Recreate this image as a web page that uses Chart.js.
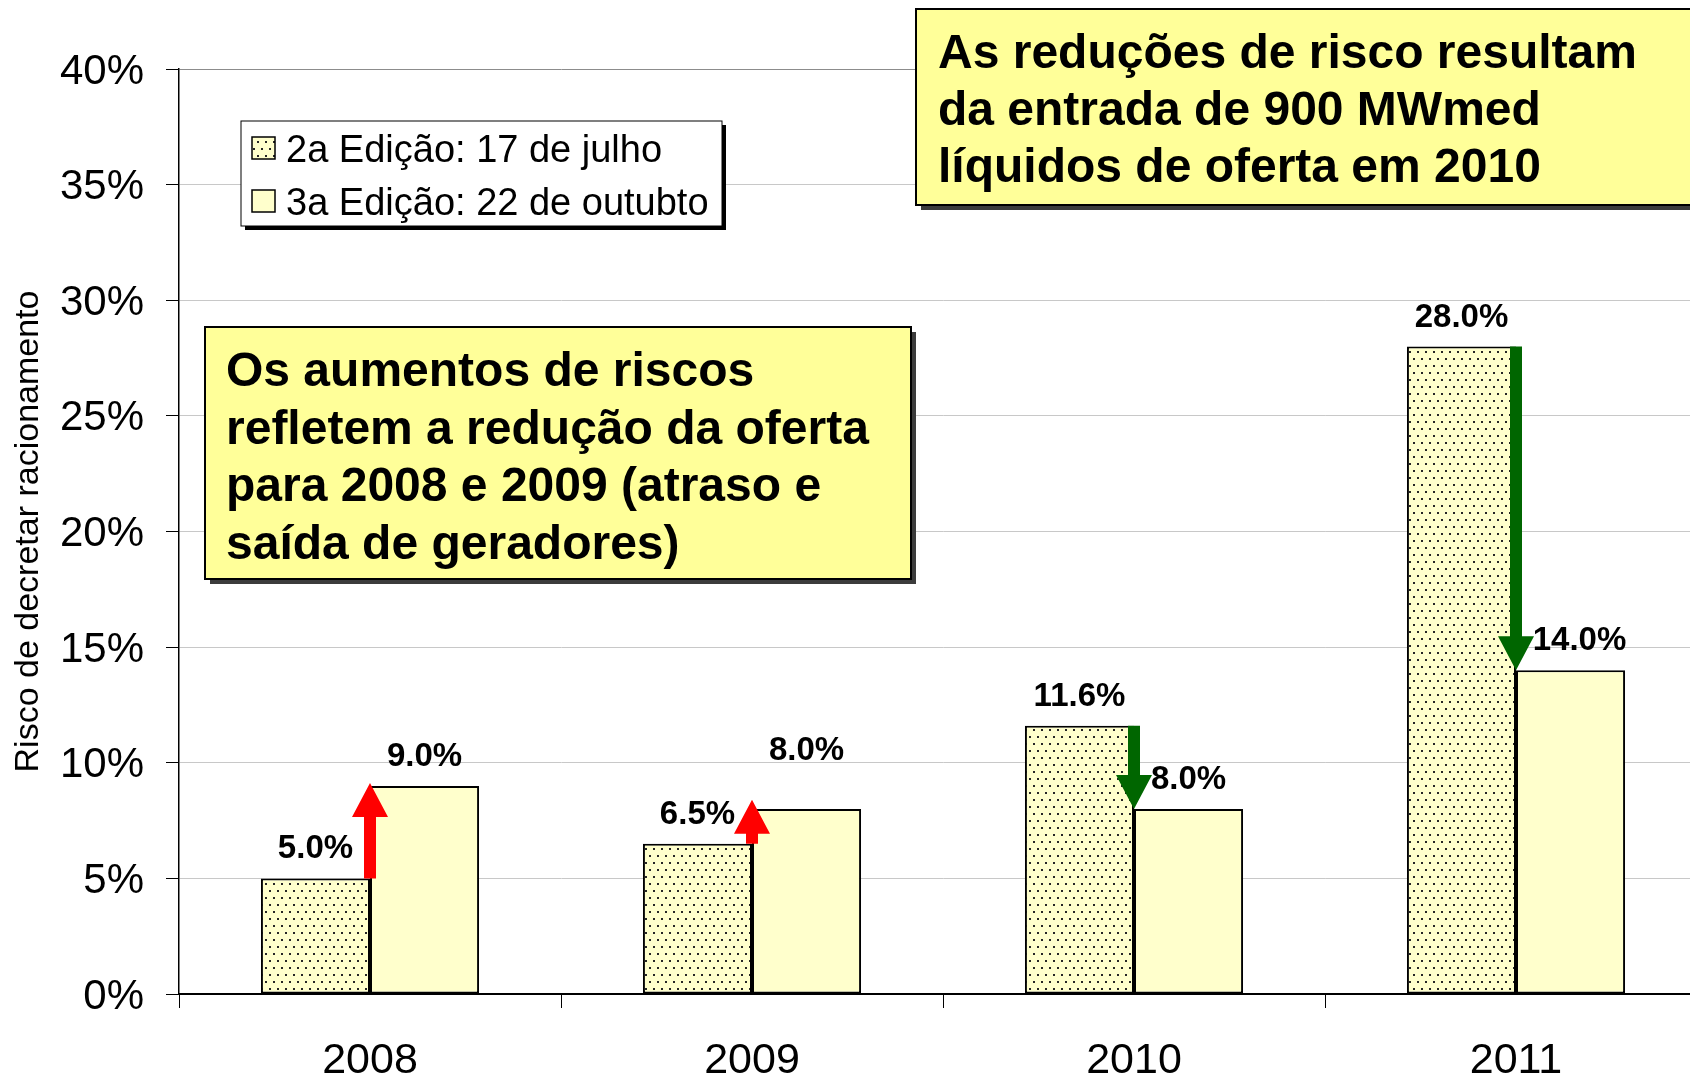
<!DOCTYPE html>
<html lang="pt-BR">

<head>
    <meta charset="UTF-8">
    <title>Risco de decretar racionamento</title>
    <script src="https://cdn.jsdelivr.net/npm/chart.js"></script>
    <style>
        html, body { margin: 0; padding: 0; overflow: hidden; background: #fff; }
        #quadro { position: relative; width: 1720px; height: 1078px; }
    </style>
</head>

<body>
    <div id="quadro">
        <!-- o gráfico passa um pouco da janela pela direita, como no original -->
        <canvas id="grafico" width="1720" height="1078"></canvas>
    </div>

<script>
    // DADOS
    const anos = ['2008', '2009', '2010', '2011'];
    const edicao2 = [5.0, 6.5, 11.6, 28.0];   // 2a Edição: 17 de julho
    const edicao3 = [9.0, 8.0, 8.0, 14.0];    // 3a Edição: 22 de outubto
    const ticksY = [0, 5, 10, 15, 20, 25, 30, 35, 40];
    const nomesSeries = ['2a Edição: 17 de julho', '3a Edição: 22 de outubto'];

    const textoAumento = [
        'Os aumentos de riscos',
        'refletem a redução da oferta',
        'para 2008 e 2009 (atraso e',
        'saída de geradores)'
    ];
    const textoReducao = [
        'As reduções de risco resultam',
        'da entrada de 900 MWmed',
        'líquidos de oferta em 2010'
    ];

    // ajustes finos dos rótulos da 3a edição (px)
    const subirRotulo3 = [0, 29, 0, 0];
    const desviarRotulo3 = [0, 0, 0, 9];

    const FONTE = '"Liberation Sans", Arial, sans-serif';
    Chart.defaults.font.family = FONTE;
    Chart.defaults.color = '#000';

    // pontilhado da 2a edição
    function criarPontilhado() {
        const c = document.createElement('canvas');
        c.width = 8; c.height = 14;
        const g = c.getContext('2d');
        g.fillStyle = '#FFFFCC';
        g.fillRect(0, 0, 8, 14);
        g.fillStyle = '#262626';
        g.fillRect(1, 1, 2, 2);
        g.fillRect(5, 8, 2, 2);
        return g.createPattern(c, 'repeat');
    }
    const pontilhado = criarPontilhado();

    function seta(ctx, xc, yBase, yPonta, cor) {
        const dir = yPonta < yBase ? -1 : 1;
        const cabeca = 34, meiaCabeca = 18, meiaHaste = 6;
        const yCabeca = yPonta - dir * cabeca;
        ctx.save();
        ctx.fillStyle = cor;
        ctx.beginPath();
        ctx.moveTo(xc - meiaHaste, yBase);
        ctx.lineTo(xc - meiaHaste, yCabeca);
        ctx.lineTo(xc - meiaCabeca, yCabeca);
        ctx.lineTo(xc, yPonta);
        ctx.lineTo(xc + meiaCabeca, yCabeca);
        ctx.lineTo(xc + meiaHaste, yCabeca);
        ctx.lineTo(xc + meiaHaste, yBase);
        ctx.closePath();
        ctx.fill();
        ctx.restore();
    }

    function caixa(ctx, x, y, w, h, fundo, sombra, desloc, borda) {
        ctx.save();
        ctx.fillStyle = sombra;
        ctx.fillRect(x + desloc, y + desloc, w, h);
        ctx.fillStyle = fundo;
        ctx.fillRect(x, y, w, h);
        ctx.strokeStyle = '#000';
        ctx.lineWidth = borda;
        ctx.strokeRect(x, y, w, h);
        ctx.restore();
    }

    function escrever(ctx, linhas, x, base, passo, fonte) {
        ctx.save();
        ctx.font = fonte;
        ctx.fillStyle = '#000';
        ctx.textAlign = 'left';
        ctx.textBaseline = 'alphabetic';
        linhas.forEach((l, i) => ctx.fillText(l, x, base + i * passo));
        ctx.restore();
    }

    const anotacoes = {
        id: 'anotacoes',
        afterDatasetsDraw(chart) {
            const ctx = chart.ctx;
            const x = chart.scales.x, y = chart.scales.y;

            // setas: vermelha quando o risco sobe, verde quando cai
            anos.forEach((ano, i) => {
                const xc = x.getPixelForValue(i);
                const y0 = y.getPixelForValue(edicao2[i]);
                const y1 = y.getPixelForValue(edicao3[i]);
                if (edicao3[i] > edicao2[i]) {
                    seta(ctx, xc, y0, Math.min(y1 - 3, y0 - 44), '#FF0000');
                } else {
                    seta(ctx, xc, y0, y1, '#006600');
                }
            });

            // rótulos dos valores
            ctx.save();
            ctx.font = 'bold 33px ' + FONTE;
            ctx.fillStyle = '#000';
            ctx.textAlign = 'center';
            ctx.textBaseline = 'alphabetic';
            [edicao2, edicao3].forEach((serie, d) => {
                chart.getDatasetMeta(d).data.forEach((barra, i) => {
                    const sobe = d === 1 ? subirRotulo3[i] : 0;
                    const lado = d === 1 ? desviarRotulo3[i] : 0;
                    ctx.fillText(serie[i].toFixed(1) + '%', barra.x + lado, barra.y - 20 - sobe);
                });
            });
            ctx.restore();
        },
        afterDraw(chart) {
            const ctx = chart.ctx;

            // caixa de texto da direita (sai da janela)
            caixa(ctx, 916, 9, 800, 196, '#FFFF99', '#3c3c3c', 5, 2);
            escrever(ctx, textoReducao, 938, 68, 57, 'bold 48px ' + FONTE);

            // caixa de texto da esquerda
            caixa(ctx, 205, 327, 706, 252, '#FFFF99', '#3c3c3c', 5, 2);
            escrever(ctx, textoAumento, 226, 386, 57.5, 'bold 48px ' + FONTE);

            // legenda
            caixa(ctx, 241, 121, 481, 105, '#FFFFFF', '#000', 4, 1);
            const amostras = [pontilhado, '#FFFFCC'];
            const topos = [137, 190];
            amostras.forEach((fundo, i) => {
                ctx.save();
                ctx.fillStyle = fundo;
                ctx.fillRect(252, topos[i], 23, 22);
                ctx.strokeStyle = '#000';
                ctx.lineWidth = 1.5;
                ctx.strokeRect(252, topos[i], 23, 22);
                ctx.restore();
            });
            escrever(ctx, nomesSeries, 286, 162, 53, '38px ' + FONTE);
        }
    };

    const data = {
        labels: anos,
        datasets: [
            {
                label: nomesSeries[0],
                data: edicao2,
                backgroundColor: pontilhado,
                borderColor: '#000',
                borderWidth: 2,
                borderSkipped: false
            },
            {
                label: nomesSeries[1],
                data: edicao3,
                backgroundColor: '#FFFFCC',
                borderColor: '#000',
                borderWidth: 2,
                borderSkipped: false
            }
        ]
    };

    const config = {
        type: 'bar',
        data: data,
        options: {
            responsive: false,
            animation: false,
            events: [],
            layout: { padding: { top: 69, right: 13, left: 0, bottom: 0 } },
            datasets: { bar: { categoryPercentage: 0.571, barPercentage: 1.0 } },
            plugins: {
                legend: { display: false },
                tooltip: { enabled: false }
            },
            scales: {
                x: {
                    ticks: { font: { size: 43 }, color: '#000', padding: 27, autoSkip: false, maxRotation: 0 },
                    grid: { offset: true, drawOnChartArea: false, color: '#000', tickColor: '#000', tickLength: 14 },
                    border: { color: '#000', width: 2 },
                    afterFit: s => { s.height = 84; }
                },
                y: {
                    min: ticksY[0],
                    max: ticksY[ticksY.length - 1],
                    afterBuildTicks: s => { s.ticks = ticksY.map(v => ({ value: v })); },
                    ticks: { font: { size: 42 }, color: '#000', padding: 22, labelOffset: 3, callback: v => v + '%' },
                    grid: {
                        color: c => c.tick && c.tick.value === 40 ? '#8c8c8c' : (c.tick && c.tick.value === 0 ? '#000' : '#c8c8c8'),
                        tickColor: '#000',
                        tickLength: 13,
                        lineWidth: 1
                    },
                    border: { color: '#000', width: 1.5 },
                    title: {
                        display: true,
                        text: 'Risco de decretar racionamento',
                        font: { size: 34 },
                        color: '#000',
                        padding: { top: 8, bottom: 0 }
                    },
                    afterFit: s => { s.width = 179; }
                }
            }
        },
        plugins: [anotacoes]
    };

    const grafico = new Chart(document.getElementById('grafico'), config);
</script>
</body>

</html>
